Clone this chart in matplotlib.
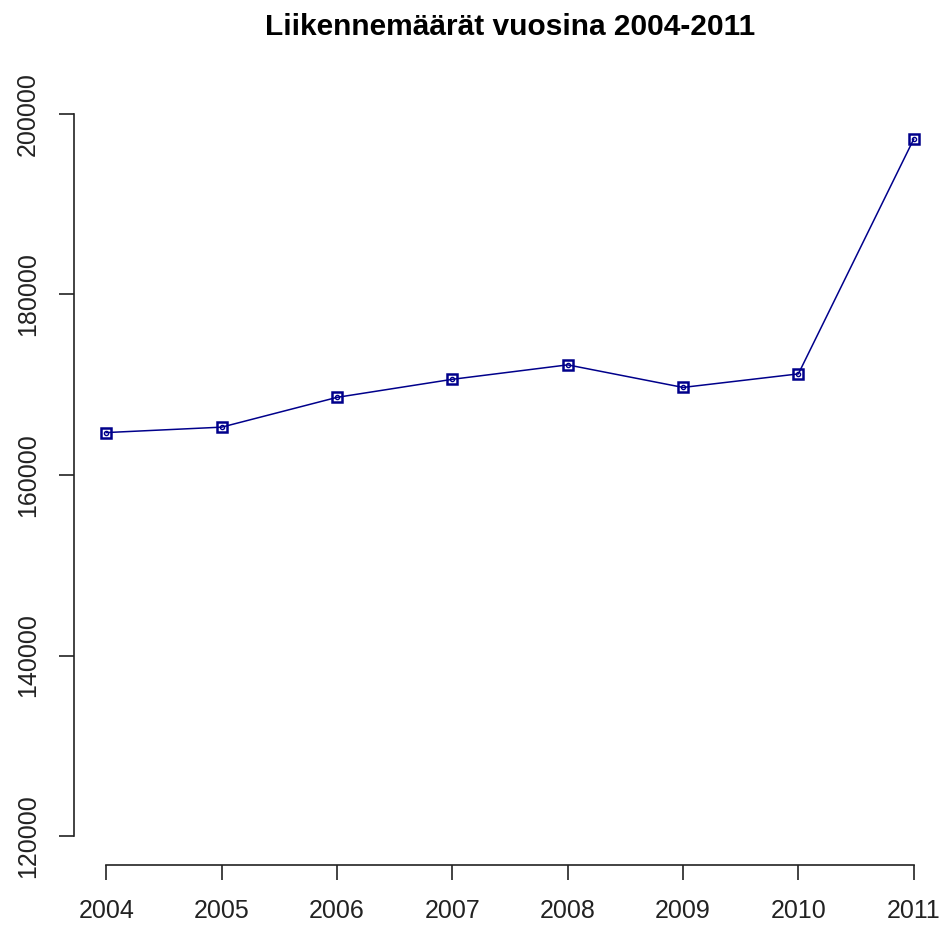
import matplotlib
matplotlib.use("Agg")
import matplotlib.pyplot as plt

# vuodet ja liikennemäärät
years = [2004, 2005, 2006, 2007, 2008, 2009, 2010, 2011]
traffic = [164700, 165300, 168600, 170600, 172200, 169700, 171200, 197200]
yticks = [120000, 140000, 160000, 180000, 200000]

plt.rcParams['font.family'] = ['Liberation Sans', 'DejaVu Sans']

fig = plt.figure(figsize=(9.49, 9.25), dpi=100)
ax = fig.add_axes([74 / 949, 1 - 865 / 925, 872 / 949, 780 / 925])

col = '#00008B'
ax.plot(years, traffic, color=col, lw=1.1, marker='s', ms=7, mfc='none',
        mec=col, mew=1.8, clip_on=False)
ax.plot(years, traffic, ls='none', marker='o', ms=3, mfc='none',
        mec=col, mew=1.0, clip_on=False)

# R:n tapaan 4 % lisätilaa
ax.set_xlim(2004 - 0.28, 2011 + 0.28)
ax.set_ylim(120000 - 3200, 200000 + 3200)
ax.set_xticks(years)
ax.set_xticklabels([str(y) for y in years])
ax.set_yticks(yticks)
ax.set_yticklabels([str(v) for v in yticks], rotation=90, va='center')

for s in ['top', 'right']:
    ax.spines[s].set_visible(False)
ax.spines['left'].set_bounds(120000, 200000)
ax.spines['bottom'].set_bounds(2004, 2011)
for s in ['left', 'bottom']:
    ax.spines[s].set_linewidth(1.2)
    ax.spines[s].set_color('#222222')

ax.tick_params(axis='both', length=10.5, width=1.2, color='#222222',
               labelsize=18, labelcolor='#222222')
ax.tick_params(axis='x', pad=14)
ax.tick_params(axis='y', pad=14)

fig.text(510 / 949, 1 - 35 / 925, 'Liikennemäärät vuosina 2004-2011',
         ha='center', va='baseline', fontsize=21.5, fontweight='bold')

fig.savefig('out.png', dpi=100)
